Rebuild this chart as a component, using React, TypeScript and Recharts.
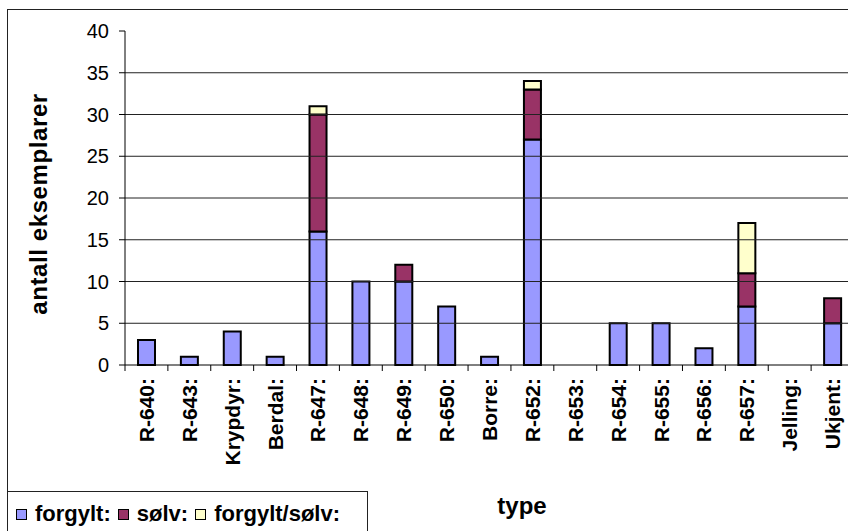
import { BarChart, Bar, XAxis, YAxis, ReferenceLine } from "recharts";

const types = [
  "R-640:", "R-643:", "Krypdyr:", "Berdal:", "R-647:", "R-648:", "R-649:", "R-650:", "Borre:",
  "R-652:", "R-653:", "R-654:", "R-655:", "R-656:", "R-657:", "Jelling:", "Ukjent:",
];
const forgylt = [3, 1, 4, 1, 16, 10, 10, 7, 1, 27, 0, 5, 5, 2, 7, 0, 5];
const solv = [0, 0, 0, 0, 14, 0, 2, 0, 0, 6, 0, 0, 0, 0, 4, 0, 3];
const forgyltSolv = [0, 0, 0, 0, 1, 0, 0, 0, 0, 1, 0, 0, 0, 0, 6, 0, 0];
const yTicks = [0, 5, 10, 15, 20, 25, 30, 35, 40];
const gridValues = [5, 10, 15, 20, 25, 30, 35];

const series = [
  { key: "forgylt", name: "forgylt:", color: "#9999FF" },
  { key: "solv", name: "sølv:", color: "#993366" },
  { key: "forgyltSolv", name: "forgylt/sølv:", color: "#FFFFCC" },
];

const data = types.map((t, i) => ({
  type: t,
  forgylt: forgylt[i],
  solv: solv[i],
  forgyltSolv: forgyltSolv[i],
}));

const W = 880;
const H = 531;
const M = { top: 31, right: 26, left: 0, bottom: 0 };
const Y_W = 125;
const BAND = (W - M.left - M.right - Y_W) / types.length;
const FONT = "Arial, 'Liberation Sans', sans-serif";

function TypeTick(props: any) {
  const { x, y, index } = props;
  const left = x - BAND / 2;
  return (
    <g>
      <line x1={left} x2={left} y1={y} y2={y + 6} stroke="#000" strokeWidth={1} />
      {index === types.length - 1 && (
        <line x1={x + BAND / 2} x2={x + BAND / 2} y1={y} y2={y + 6} stroke="#000" />
      )}
      <text
        x={x}
        y={y + 13}
        transform={`rotate(-90 ${x} ${y + 13})`}
        textAnchor="end"
        dominantBaseline="central"
        fontFamily={FONT}
        fontWeight="bold"
        fontSize={21}
        fill="#000"
      >
        {props.payload.value}
      </text>
    </g>
  );
}

function LegendBox() {
  return (
    <div
      style={{
        position: "absolute",
        left: 7,
        top: 491,
        width: 361,
        height: 60,
        border: "1.5px solid #222",
        background: "#fff",
        boxSizing: "border-box",
        padding: "9px 0 0 8px",
        display: "flex",
        alignItems: "flex-start",
        fontFamily: FONT,
        fontWeight: "bold",
        fontSize: 22,
        lineHeight: "26px",
        color: "#000",
      }}
    >
      {series.map((s) => (
        <span key={s.key} style={{ display: "flex", alignItems: "center", marginRight: 7 }}>
          <span
            style={{
              display: "inline-block",
              width: 9,
              height: 9,
              background: s.color,
              border: "1.5px solid #000",
              marginRight: 8,
            }}
          />
          {s.name}
        </span>
      ))}
    </div>
  );
}

export default function App() {
  return (
    <div
      style={{
        position: "absolute",
        left: 0,
        top: 0,
        width: 848,
        height: 531,
        overflow: "hidden",
        background: "#fff",
      }}
    >
      <div
        style={{
          position: "absolute",
          left: 7,
          top: 9,
          width: 900,
          height: 600,
          border: "1.5px solid #222",
        }}
      />
      <div style={{ position: "absolute", left: 0, top: 0 }}>
        <BarChart width={W} height={H} data={data} margin={M} barSize={17}>
          {gridValues.map((v) => (
            <ReferenceLine key={v} y={v} stroke="#222" strokeWidth={1} />
          ))}
          <XAxis
            dataKey="type"
            height={H - M.top - 334}
            interval={0}
            tickSize={0}
            tickMargin={0}
            tick={<TypeTick />}
            axisLine={{ stroke: "#000", strokeWidth: 1 }}
            label={{
              content: () => (
                <text
                  x={522}
                  y={514}
                  textAnchor="middle"
                  fontFamily={FONT}
                  fontWeight="bold"
                  fontSize={24}
                  fill="#000"
                >
                  type
                </text>
              ),
            }}
          />
          <YAxis
            width={Y_W}
            domain={[0, 40]}
            ticks={yTicks}
            interval={0}
            tickSize={6}
            tickMargin={10}
            tick={{ fill: "#000", fontSize: 20, fontFamily: FONT }}
            tickLine={{ stroke: "#000" }}
            axisLine={{ stroke: "#000", strokeWidth: 1 }}
            label={{
              content: () => (
                <text
                  x={47}
                  y={204}
                  transform="rotate(-90 47 204)"
                  textAnchor="middle"
                  fontFamily={FONT}
                  fontWeight="bold"
                  fontSize={24}
                  letterSpacing={0.6}
                  fill="#000"
                >
                  antall eksemplarer
                </text>
              ),
            }}
          />
          {series.map((s) => (
            <Bar
              key={s.key}
              dataKey={s.key}
              name={s.name}
              stackId="a"
              fill={s.color}
              stroke="#000"
              strokeWidth={2}
              isAnimationActive={false}
            />
          ))}
        </BarChart>
      </div>
      <LegendBox />
    </div>
  );
}
